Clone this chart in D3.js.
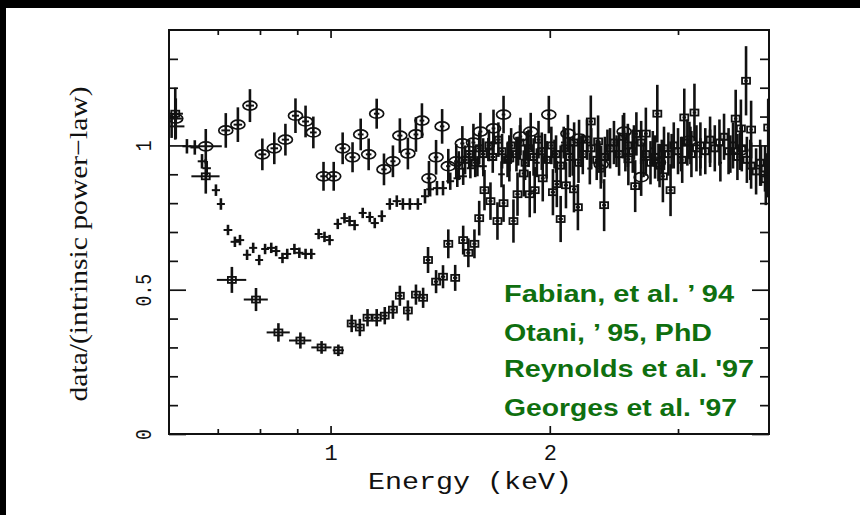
<!DOCTYPE html>
<html><head><meta charset="utf-8">
<script src="https://cdn.jsdelivr.net/npm/d3@7"></script>
<style>body{margin:0;background:#fff}</style>
</head><body>
<svg id="c" width="860" height="515"></svg>
<script>
// ---------- data ----------
const xMajorTicks = [1, 2];
const xMinorTicks = [0.7, 0.8, 0.9, 3];
const xTickLabels = ["1", "2"];
const yMajorTicks = [0, 0.5, 1];
const yMinorTicks = [0.1,0.2,0.3,0.4,0.6,0.7,0.8,0.9,1.1,1.2,1.3];
const yTickLabels = ["0", "0.5", "1"];
const legendLabels = ["Fabian, et al. \u2019 94", "Otani, \u2019 95, PhD", "Reynolds et al. '97", "Georges et al. '97"];

// series A: ellipse markers
const aE = [0.613,0.674,0.718,0.746,0.775,0.806,0.837,0.867,0.895,0.924,0.947,0.978,1.01,1.039,1.072,1.10,1.128,1.157,1.184,1.218,1.245,1.277,1.31,1.335,1.365,1.396,1.423,1.451,1.488,1.517,1.571,1.606,1.674,1.728,1.823,1.883,1.994,2.118,2.194,2.353,2.53,2.67,2.82,3.11,3.66];
const aV = [1.093,0.997,1.052,1.072,1.138,0.969,0.99,1.02,1.103,1.083,1.045,0.893,0.893,0.99,0.959,1.038,0.969,1.11,0.917,0.945,1.034,0.972,1.038,1.086,0.886,0.959,1.066,0.928,0.945,1.007,1.01,1.048,1.059,1.107,1.031,1.048,1.107,1.041,1.024,0.934,1.048,0.89,0.941,1.017,0.983];
const aErr = [0.07,0.06,0.06,0.06,0.057,0.055,0.055,0.055,0.06,0.055,0.055,0.05,0.05,0.055,0.052,0.055,0.055,0.052,0.055,0.055,0.06,0.055,0.06,0.06,0.06,0.06,0.06,0.06,0.06,0.06,0.065,0.065,0.065,0.065,0.065,0.065,0.065,0.065,0.065,0.065,0.065,0.065,0.065,0.065,0.065];
const aXErr = [0.012,0.035,0.01,0.01,0.01,0.01,0.01,0.01,0.01,0.01,0.01,0.01,0.01,0.01,0.01,0.01,0.01,0.01,0.01,0.01,0.01,0.01,0.01,0.01,0.01,0.01,0.01,0.01,0.01,0.01,0.01,0.01,0.01,0.01,0.01,0.01,0.01,0.01,0.01,0.01,0.01,0.01,0.01,0.01,0.01];

// series B: plain crosses (error bars only)
const bE = [0.605,0.635,0.651,0.666,0.676,0.696,0.707,0.723,0.739,0.751,0.768,0.783,0.798,0.813,0.829,0.842,0.859,0.872,0.892,0.906,0.924,0.941,0.963,0.981,0.997,1.023,1.045,1.062,1.079,1.107,1.132,1.15,1.176,1.206,1.233,1.257,1.285,1.318,1.348,1.37,1.40,1.427,1.46,1.493,1.521,1.556,1.591,1.621,1.647,1.674,1.717,1.76,1.81,1.86,1.92,1.97,2.03,2.09,2.15,2.21,2.27,2.34,2.40,2.47,2.54,2.61,2.69,2.77,2.85,2.94,3.03,3.12,3.22,3.32,3.43,3.54,3.65,3.77,3.90];
const bV = [1.066,0.997,0.993,0.945,0.921,0.845,0.797,0.707,0.666,0.672,0.621,0.645,0.603,0.641,0.645,0.634,0.61,0.624,0.641,0.628,0.624,0.624,0.693,0.683,0.672,0.728,0.748,0.738,0.724,0.766,0.752,0.731,0.755,0.797,0.807,0.797,0.797,0.797,0.824,0.848,0.852,0.852,0.876,0.886,0.893,0.921,0.928,0.928,0.986,1.007,0.90,0.96,0.98,1.00,0.94,0.99,0.97,1.01,0.95,0.98,0.92,0.96,1.00,0.98,0.97,1.01,0.95,0.99,0.96,0.98,0.97,1.00,0.96,0.99,0.94,0.97,0.98,0.95,0.93];
const bErr = [0.04,0.025,0.025,0.025,0.025,0.02,0.02,0.018,0.018,0.018,0.018,0.018,0.018,0.018,0.018,0.018,0.018,0.018,0.018,0.018,0.018,0.018,0.018,0.018,0.018,0.018,0.018,0.018,0.018,0.018,0.018,0.018,0.02,0.02,0.02,0.02,0.02,0.02,0.025,0.025,0.025,0.025,0.03,0.03,0.03,0.035,0.035,0.035,0.04,0.04,0.045,0.05,0.05,0.05,0.05,0.05,0.05,0.055,0.055,0.055,0.055,0.055,0.055,0.055,0.06,0.06,0.06,0.06,0.06,0.06,0.06,0.065,0.065,0.065,0.065,0.065,0.065,0.07,0.07];
const bXErr = [0.025,0.009,0.009,0.009,0.009,0.009,0.009,0.01,0.01,0.01,0.01,0.01,0.01,0.01,0.011,0.011,0.011,0.011,0.012,0.012,0.012,0.012,0.012,0.013,0.013,0.013,0.013,0.014,0.014,0.014,0.014,0.015,0.015,0.015,0.016,0.016,0.016,0.017,0.017,0.017,0.018,0.018,0.018,0.018,0.018,0.018,0.018,0.018,0.018,0.018,0.018,0.018,0.018,0.018,0.018,0.018,0.018,0.018,0.018,0.018,0.018,0.018,0.018,0.018,0.018,0.018,0.018,0.018,0.018,0.018,0.018,0.018,0.018,0.018,0.018,0.018,0.018,0.018,0.018];

// series C: square markers
const cE = [0.612,0.674,0.732,0.79,0.848,0.909,0.972,1.025,1.069,1.097,1.124,1.157,1.187,1.218,1.245,1.277,1.31,1.34,1.361,1.396,1.427,1.451,1.483,1.521,1.546,1.576,1.60,1.627,1.658,1.695,1.728,1.76,1.783,1.806,1.842,1.877,1.907,1.956,2.02,2.045,2.07,2.105,2.159,2.186,2.277,2.33,2.375,2.564,2.62,2.71,2.81,2.86,2.93,3.06,3.16,3.60,3.66,3.72,3.78,3.96,3.99];
const cV = [1.11,0.893,0.534,0.466,0.352,0.324,0.30,0.29,0.383,0.369,0.403,0.403,0.41,0.431,0.479,0.428,0.483,0.472,0.603,0.528,0.545,0.659,0.541,0.672,0.628,0.659,0.748,0.845,0.807,0.738,0.80,0.955,0.738,0.831,0.903,0.831,0.845,0.886,0.838,0.866,0.745,0.862,0.848,0.786,1.083,1.014,0.793,0.952,0.859,1.041,1.11,0.893,0.845,1.097,1.114,1.093,1.059,1.224,1.055,0.883,1.062];
const cErr = [0.09,0.06,0.045,0.04,0.032,0.028,0.022,0.02,0.03,0.03,0.03,0.03,0.03,0.032,0.035,0.035,0.035,0.035,0.045,0.04,0.04,0.05,0.045,0.05,0.05,0.05,0.06,0.07,0.065,0.065,0.065,0.08,0.075,0.075,0.08,0.08,0.08,0.08,0.08,0.08,0.08,0.08,0.08,0.08,0.09,0.09,0.09,0.09,0.09,0.09,0.1,0.09,0.09,0.1,0.1,0.1,0.1,0.12,0.1,0.09,0.1];
const cXErr = [0.015,0.03,0.034,0.03,0.031,0.032,0.031,0.018,0.01,0.01,0.01,0.01,0.01,0.01,0.01,0.01,0.01,0.01,0.01,0.01,0.01,0.01,0.01,0.01,0.01,0.01,0.01,0.01,0.01,0.01,0.01,0.012,0.012,0.012,0.012,0.012,0.012,0.012,0.014,0.014,0.014,0.014,0.014,0.014,0.015,0.015,0.015,0.016,0.016,0.016,0.018,0.018,0.018,0.018,0.018,0.02,0.02,0.02,0.02,0.02,0.02];

// series D: dense small markers (high energies)
const dE = [1.50,1.53,1.55,1.58,1.60,1.62,1.65,1.67,1.70,1.72,1.75,1.77,1.80,1.82,1.85,1.87,1.90,1.93,1.95,1.98,2.01,2.04,2.07,2.10,2.13,2.16,2.19,2.22,2.25,2.28,2.32,2.35,2.38,2.42,2.45,2.49,2.52,2.56,2.60,2.63,2.67,2.71,2.75,2.79,2.83,2.87,2.91,2.96,3.00,3.04,3.09,3.13,3.18,3.22,3.27,3.32,3.37,3.42,3.47,3.52,3.57,3.62,3.67,3.73,3.78,3.84,3.89,3.95,3.99];
const dV = [0.93,0.95,0.97,0.94,0.99,0.97,1.00,0.96,1.02,0.98,0.95,1.00,0.97,1.01,0.94,0.99,0.96,1.02,0.98,0.95,1.00,0.97,0.93,0.99,0.96,1.01,0.94,0.97,1.02,0.99,0.95,0.92,0.96,0.99,1.01,0.97,1.03,1.00,0.98,1.04,1.01,0.97,0.94,0.96,0.93,0.99,0.97,1.00,0.98,0.95,1.01,0.97,0.99,1.00,0.98,1.02,0.99,1.01,1.03,0.98,1.00,0.96,0.99,0.95,0.93,0.91,0.94,0.92,0.90];
const dErr = [0.05,0.05,0.05,0.05,0.055,0.055,0.055,0.055,0.06,0.06,0.06,0.06,0.06,0.06,0.06,0.065,0.065,0.065,0.065,0.065,0.065,0.065,0.07,0.07,0.07,0.07,0.07,0.07,0.07,0.07,0.07,0.07,0.07,0.07,0.075,0.075,0.075,0.075,0.075,0.075,0.075,0.075,0.075,0.075,0.075,0.075,0.075,0.08,0.08,0.08,0.08,0.08,0.08,0.08,0.08,0.08,0.08,0.08,0.08,0.08,0.08,0.08,0.08,0.08,0.08,0.08,0.08,0.08,0.08];

// ---------- drawing ----------
const W = 860, H = 515;
const L = 169, R = 769, T = 30, B = 434;
const svg = d3.select('#c');
svg.append('rect').attr('width', W).attr('height', H).attr('fill', '#fff');
svg.append('rect').attr('x', 0).attr('y', 0).attr('width', W).attr('height', 8).attr('fill', '#000');
svg.append('rect').attr('x', 0).attr('y', 0).attr('width', 6).attr('height', H).attr('fill', '#000');

const x = d3.scaleLog().domain([0.6, 4]).range([L, R]);
const y = d3.scaleLinear().domain([0, 1.4]).range([B, T]);

const plot = svg.append('g');
plot.append('defs').append('clipPath').attr('id', 'clip')
  .append('rect').attr('x', L).attr('y', T).attr('width', R - L).attr('height', B - T);
const data = plot.append('g').attr('clip-path', 'url(#clip)');

function drawSeries(E, V, Err, XErr, marker) {
  const pts = E.map((e, i) => ({e, v: V[i], err: Err[i], xe: XErr[i]}));
  const g = data.append('g').attr('stroke', '#111').attr('fill', 'none');
  g.selectAll('line.h').data(pts).join('line').attr('class', 'h')
    .attr('x1', d => x(d.e - d.xe)).attr('x2', d => x(d.e + d.xe))
    .attr('y1', d => y(d.v)).attr('y2', d => y(d.v)).attr('stroke-width', 2);
  g.selectAll('line.v').data(pts).join('line').attr('class', 'v')
    .attr('x1', d => x(d.e)).attr('x2', d => x(d.e))
    .attr('y1', d => y(d.v - d.err)).attr('y2', d => y(d.v + d.err)).attr('stroke-width', 2.6);
  if (marker === 'ellipse') {
    g.selectAll('ellipse').data(pts).join('ellipse')
      .attr('cx', d => x(d.e)).attr('cy', d => y(d.v)).attr('rx', 7).attr('ry', 4.5).attr('stroke-width', 1.7);
  } else if (marker === 'square') {
    g.selectAll('rect').data(pts).join('rect')
      .attr('x', d => x(d.e) - 4).attr('y', d => y(d.v) - 3).attr('width', 8).attr('height', 6).attr('stroke-width', 1.8);
  } else if (marker === 'small') {
    g.selectAll('rect').data(pts).join('rect')
      .attr('x', d => x(d.e) - 3.5).attr('y', d => y(d.v) - 3).attr('width', 7).attr('height', 6).attr('stroke-width', 2);
  }
}
drawSeries(dE, dV, dErr, dE.map(() => 0.012), 'small');
drawSeries(bE, bV, bErr, bXErr, 'none');
drawSeries(cE, cV, cErr, cXErr, 'square');
drawSeries(aE, aV, aErr, aXErr, 'ellipse');

// frame
plot.append('rect').attr('x', L).attr('y', T).attr('width', R - L).attr('height', B - T)
  .attr('fill', 'none').attr('stroke', '#111').attr('stroke-width', 2);

const tickFont = "'Liberation Mono', 'DejaVu Sans Mono', monospace";
function styleAxis(g) {
  g.select('.domain').remove();
  g.selectAll('.tick line').attr('stroke', '#111').attr('stroke-width', 1.7);
}
// bottom / top axes
svg.append('g').attr('transform', `translate(0,${B})`)
  .call(d3.axisBottom(x).tickValues(xMajorTicks).tickSize(-8).tickPadding(10)
    .tickFormat((d, i) => xTickLabels[i]))
  .call(styleAxis)
  .selectAll('text').attr('font-family', tickFont).attr('font-size', 22).attr('fill', '#111');
svg.append('g').attr('transform', `translate(0,${B})`)
  .call(d3.axisBottom(x).tickValues(xMinorTicks).tickSize(-5).tickFormat(''))
  .call(styleAxis);
svg.append('g').attr('transform', `translate(0,${T})`)
  .call(d3.axisTop(x).tickValues(xMajorTicks).tickSize(-8).tickFormat(''))
  .call(styleAxis);
svg.append('g').attr('transform', `translate(0,${T})`)
  .call(d3.axisTop(x).tickValues(xMinorTicks).tickSize(-5).tickFormat(''))
  .call(styleAxis);
// left / right axes
const yl = svg.append('g').attr('transform', `translate(${L},0)`)
  .call(d3.axisLeft(y).tickValues(yMajorTicks).tickSize(-17).tickFormat((d, i) => yTickLabels[i]))
  .call(styleAxis);
yl.selectAll('text')
  .attr('font-family', tickFont).attr('font-size', 18).attr('fill', '#111')
  .attr('x', null).attr('dy', null).attr('text-anchor', 'middle')
  .attr('transform', 'translate(-24,0) rotate(-90) scale(1,1.2)')
  .attr('dominant-baseline', 'central');
svg.append('g').attr('transform', `translate(${L},0)`)
  .call(d3.axisLeft(y).tickValues(yMinorTicks).tickSize(-9).tickFormat(''))
  .call(styleAxis);
svg.append('g').attr('transform', `translate(${R},0)`)
  .call(d3.axisRight(y).tickValues(yMajorTicks).tickSize(-17).tickFormat(''))
  .call(styleAxis);
svg.append('g').attr('transform', `translate(${R},0)`)
  .call(d3.axisRight(y).tickValues(yMinorTicks).tickSize(-9).tickFormat(''))
  .call(styleAxis);

// axis titles
svg.append('text').attr('x', 470).attr('y', 489).attr('text-anchor', 'middle')
  .attr('font-family', tickFont).attr('font-size', 24).attr('fill', '#111')
  .attr('textLength', 204).attr('lengthAdjust', 'spacingAndGlyphs')
  .text('Energy (keV)');
svg.append('text').attr('transform', 'translate(87,244) rotate(-90)').attr('text-anchor', 'middle')
  .attr('font-family', "'Liberation Serif', 'DejaVu Serif', serif").attr('font-size', 26).attr('fill', '#111')
  .attr('textLength', 315).attr('lengthAdjust', 'spacingAndGlyphs')
  .text('data/(intrinsic power\u2212law)');

// green annotation lines
const legendY = [302, 341, 377, 416];
const legendW = [230, 208, 250, 233];
svg.append('g').selectAll('text').data(legendLabels).join('text')
  .attr('x', 504).attr('y', (d, i) => legendY[i])
  .attr('font-family', "'Liberation Sans', Arial, sans-serif").attr('font-weight', 'bold')
  .attr('font-size', 24).attr('fill', '#0f6f0f')
  .attr('textLength', (d, i) => legendW[i]).attr('lengthAdjust', 'spacingAndGlyphs')
  .text(d => d);
</script>
</body></html>
